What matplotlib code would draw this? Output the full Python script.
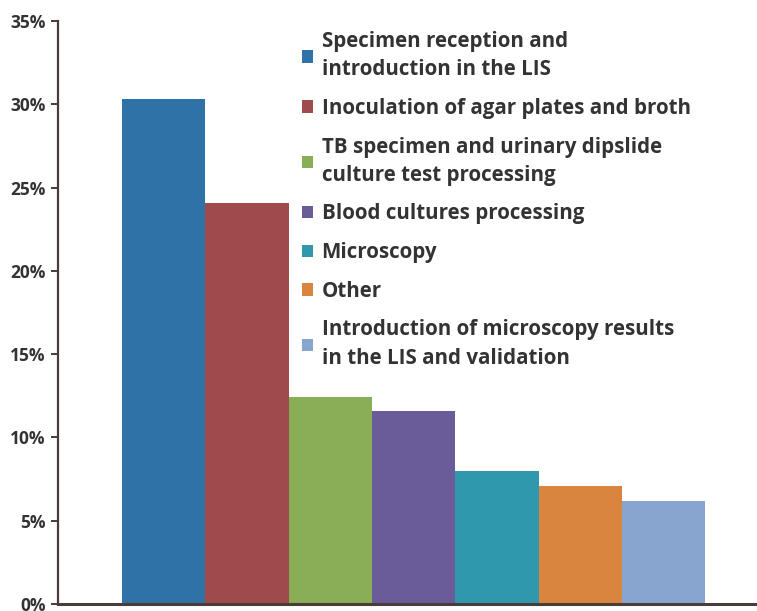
import matplotlib.pyplot as plt
from matplotlib.ticker import FuncFormatter

categories = [
    "Specimen reception and\nintroduction in the LIS",
    "Inoculation of agar plates and broth",
    "TB specimen and urinary dipslide\nculture test processing",
    "Blood cultures processing",
    "Microscopy",
    "Other",
    "Introduction of microscopy results\nin the LIS and validation",
]
shares = [30.3, 24.1, 12.4, 11.6, 8.0, 7.1, 6.2]
colors = ["#2f72a8", "#9f4a4b", "#8aae58", "#6a5b99", "#2f98ad", "#d9843f", "#87a5cf"]
yticks = [0, 5, 10, 15, 20, 25, 30, 35]

axis_color = "#4a3c38"
text_color = "#333333"

fig = plt.figure(figsize=(7.57, 6.11), dpi=100)
ax = fig.add_axes([0.0766, 0.0115, 0.9234, 0.9541])

bars = ax.bar(range(len(shares)), shares, width=1.0, color=colors, linewidth=0)

ax.set_xlim(-1.27, 7.12)
ax.set_ylim(0, 35)
ax.set_yticks(yticks)
ax.yaxis.set_major_formatter(FuncFormatter(lambda v, p: f"{v:.0f}%"))
ax.set_xticks([])

for side in ["top", "right"]:
    ax.spines[side].set_visible(False)
ax.spines["left"].set_color(axis_color)
ax.spines["left"].set_linewidth(1.6)
ax.spines["bottom"].set_color(axis_color)
ax.spines["bottom"].set_linewidth(2.2)
ax.tick_params(axis="y", length=5, width=1.4, color=axis_color, pad=4,
               labelsize=12.5, labelcolor=text_color)
for lbl in ax.get_yticklabels():
    lbl.set_fontfamily("Open Sans")
    lbl.set_fontweight("bold")

leg = ax.legend(
    bars, categories,
    loc="upper left",
    bbox_to_anchor=(302 / 757, 1 - 31 / 611),
    bbox_transform=fig.transFigure,
    frameon=False,
    prop={"family": "Open Sans", "weight": "bold", "size": 14.8},
    handlelength=0.55, handleheight=0.55, handletextpad=0.4,
    labelspacing=0.86, borderpad=0, borderaxespad=0,
)
for t in leg.get_texts():
    t.set_color(text_color)
    t.set_linespacing(1.45)

fig.savefig("out.png", dpi=100)
